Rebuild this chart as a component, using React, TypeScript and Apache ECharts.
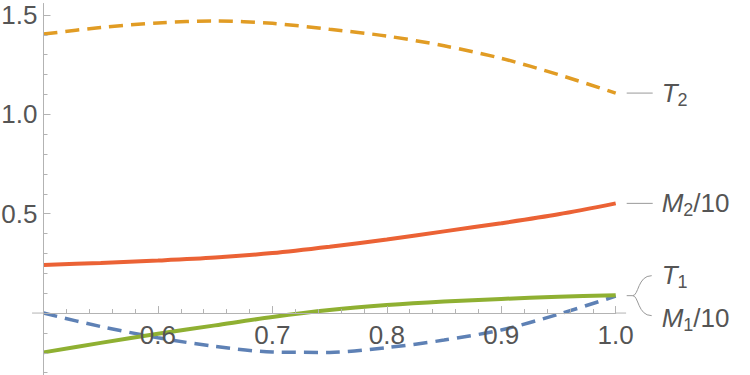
import React, { useEffect, useRef } from "react";
import * as echarts from "echarts";

// x sample positions
const xValues = [0.5, 0.55, 0.6, 0.65, 0.7, 0.75, 0.8, 0.85, 0.9, 0.95, 1.0];
// T1 (blue, dashed)
const t1Values = [0.0, -0.068, -0.124, -0.168, -0.196, -0.198, -0.174, -0.136, -0.085, -0.006, 0.085];
// T2 (orange, dashed)
const t2Values = [1.404, 1.437, 1.46, 1.47, 1.458, 1.428, 1.394, 1.345, 1.282, 1.2, 1.107];
// M1/10 (green, solid)
const m1Values = [-0.198, -0.15, -0.104, -0.062, -0.02, 0.015, 0.04, 0.058, 0.071, 0.082, 0.09];
// M2/10 (red, solid)
const m2Values = [0.242, 0.252, 0.264, 0.279, 0.302, 0.334, 0.37, 0.411, 0.452, 0.497, 0.552];

const xTickLabels = ["0.6", "0.7", "0.8", "0.9", "1.0"];
const yTickLabels = ["0.5", "1.0", "1.5"];

const FONT = '"Liberation Sans", Arial, Helvetica, sans-serif';
const TEXT = "#555555";
const AXIS = "#b3b3b3";

const toPairs = (vals: number[]) => xValues.map((x, i) => [x, vals[i]]);

export default function App() {
  const ref = useRef<HTMLDivElement>(null);
  useEffect(() => {
    if (!ref.current) return;
    const chart = echarts.init(ref.current, undefined, { renderer: "svg" });
    const lineSeries = (name: string, vals: number[], color: string, dashed: boolean) => ({
      name,
      type: "line",
      data: toPairs(vals),
      smooth: 0.3,
      showSymbol: false,
      symbol: "none",
      lineStyle: {
        color,
        width: dashed ? 3.5 : 4,
        type: dashed ? [14, 8] : "solid",
        cap: "butt",
      },
      z: 2,
    });
    chart.setOption({
      animation: false,
      grid: {
        left: 43.5,
        top: 15,
        width: 572.2,
        height: 397.4,
        containLabel: false,
        outerBoundsMode: "none",
      },
      xAxis: {
        type: "value",
        min: 0.5,
        max: 1.0,
        interval: 0.1,
        z: 5,
        axisLine: { onZero: true, lineStyle: { color: AXIS, width: 1 } },
        axisTick: { inside: true, length: 7, lineStyle: { color: AXIS } },
        minorTick: { show: true, splitNumber: 5, length: 4, lineStyle: { color: AXIS } },
        splitLine: { show: false },
        axisLabel: { show: false },
      },
      yAxis: {
        type: "value",
        min: -0.5,
        max: 1.5,
        interval: 0.5,
        z: 5,
        axisLine: { onZero: false, lineStyle: { color: AXIS, width: 1 } },
        axisTick: { inside: true, length: 7, lineStyle: { color: AXIS } },
        minorTick: { show: true, splitNumber: 5, length: 4, lineStyle: { color: AXIS } },
        splitLine: { show: false },
        axisLabel: {
          margin: 6,
          fontSize: 26,
          fontFamily: FONT,
          color: TEXT,
          formatter: (v: number) => {
            const s = v.toFixed(1);
            return yTickLabels.includes(s) ? s : "";
          },
        },
      },
      series: [
        lineSeries("T1", t1Values, "#5E81B5", true),
        lineSeries("T2", t2Values, "#E19C24", true),
        lineSeries("M1/10", m1Values, "#8FB032", false),
        lineSeries("M2/10", m2Values, "#EB6235", false),
      ],
    });

    const px = (p: number[]) => chart.convertToPixel({ gridIndex: 0 }, p) as number[];
    const last = xValues[xValues.length - 1];
    const pT2 = px([last, t2Values[t2Values.length - 1]]);
    const pM2 = px([last, m2Values[m2Values.length - 1]]);
    const pT1 = px([last, t1Values[t1Values.length - 1]]);
    const pM1 = px([last, m1Values[m1Values.length - 1]]);
    const o0 = px([0.5, 0]);
    const oL = px([0.49, 0]);
    const oR = px([1.0091, 0]);
    const yTop = px([0.5, 1.5]);
    const yTopExt = px([0.5, 1.56]);

    const rich = {
      i: { fontSize: 26, fontStyle: "italic", fontFamily: FONT, fill: TEXT, lineHeight: 32, verticalAlign: "middle" },
      s: { fontSize: 18, fontFamily: FONT, fill: TEXT, lineHeight: 17, verticalAlign: "bottom" },
      n: { fontSize: 26, fontFamily: FONT, fill: TEXT, lineHeight: 32, verticalAlign: "middle" },
    };
    const label = (x: number, y: number, text: string) => ({
      type: "text",
      x,
      y,
      z: 10,
      style: { text, rich, align: "left", verticalAlign: "middle", fontFamily: FONT, fill: TEXT },
    });
    const leader = (x: number, y: number) => ({
      type: "line",
      z: 10,
      shape: { x1: x + 11, y1: y, x2: x + 37, y2: y },
      style: { stroke: "#999999", lineWidth: 1 },
    });
    const xLabels = xTickLabels.map((s) => {
      const p = px([parseFloat(s), 0]);
      return {
        type: "text",
        x: p[0],
        y: p[1] + 22,
        z: 10,
        style: { text: s, align: "center", verticalAlign: "middle", fontSize: 26, fontFamily: FONT, fill: TEXT },
      };
    });
    const ym = (pT1[1] + pM1[1]) / 2;
    const bx = pT1[0];
    const bracketStroke = { stroke: "#999999", lineWidth: 1, fill: "none" };

    chart.setOption({
      graphic: [
        { type: "line", shape: { x1: oL[0], y1: oL[1], x2: o0[0], y2: o0[1] }, style: { stroke: AXIS, lineWidth: 1 } },
        { type: "line", shape: { x1: pT2[0], y1: oR[1], x2: oR[0], y2: oR[1] }, style: { stroke: AXIS, lineWidth: 1 } },
        { type: "line", shape: { x1: yTop[0], y1: yTop[1], x2: yTopExt[0], y2: yTopExt[1] }, style: { stroke: AXIS, lineWidth: 1 } },
        ...xLabels,
        leader(pT2[0], pT2[1]),
        label(pT2[0] + 46, pT2[1], "{i|T}{s|2}"),
        leader(pM2[0], pM2[1]),
        label(pM2[0] + 46, pM2[1], "{i|M}{s|2}{n|/10}"),
        {
          type: "line",
          z: 10,
          shape: { x1: bx + 11, y1: ym, x2: bx + 17, y2: ym },
          style: bracketStroke,
        },
        {
          type: "bezierCurve",
          z: 10,
          shape: { x1: bx + 17, y1: ym, cpx1: bx + 23, cpy1: ym, cpx2: bx + 22, cpy2: ym - 20, x2: bx + 36, y2: ym - 20 },
          style: bracketStroke,
        },
        {
          type: "bezierCurve",
          z: 10,
          shape: { x1: bx + 17, y1: ym, cpx1: bx + 23, cpy1: ym, cpx2: bx + 22, cpy2: ym + 20, x2: bx + 36, y2: ym + 20 },
          style: bracketStroke,
        },
        label(bx + 46, ym - 21, "{i|T}{s|1}"),
        label(bx + 46, ym + 22, "{i|M}{s|1}{n|/10}"),
      ],
    });

    return () => chart.dispose();
  }, []);
  return (
    <div
      ref={ref}
      style={{ position: "fixed", left: 0, top: 0, width: 750, height: 375, background: "#ffffff" }}
    />
  );
}
